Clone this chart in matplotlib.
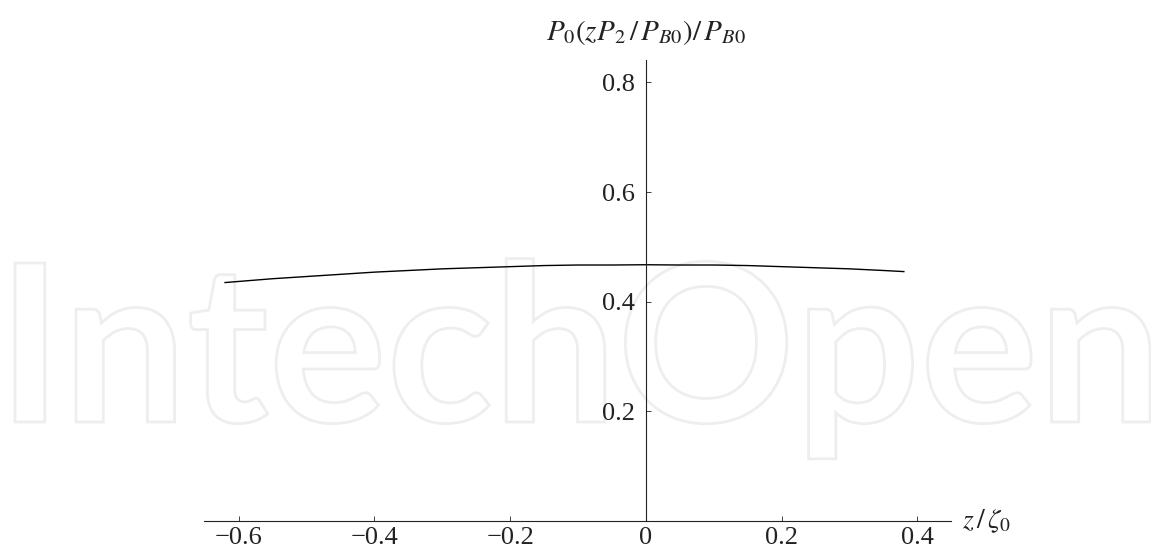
import matplotlib
matplotlib.use("Agg")
import matplotlib.pyplot as plt
from matplotlib.textpath import TextPath
from matplotlib.patches import PathPatch
from matplotlib.font_manager import FontProperties
from matplotlib.transforms import Affine2D

# ─────────────────────────────────────────────
#  DATA
# ─────────────────────────────────────────────
z_over_zeta0 = [-0.62, -0.55, -0.50, -0.45, -0.40, -0.35, -0.30, -0.25, -0.20,
                -0.15, -0.10, -0.05, 0.00, 0.05, 0.10, 0.15, 0.20, 0.25,
                0.30, 0.35, 0.38]
p_ratio = [0.435, 0.442, 0.446, 0.450, 0.454, 0.457, 0.460, 0.462, 0.464,
           0.466, 0.467, 0.467, 0.4675, 0.467, 0.467, 0.466, 0.464, 0.462,
           0.460, 0.457, 0.455]

x_ticks = [-0.6, -0.4, -0.2, 0, 0.2, 0.4]
x_tick_labels = ["\u22120.6", "\u22120.4", "\u22120.2", "0", "0.2", "0.4"]
y_ticks = [0.2, 0.4, 0.6, 0.8]
y_tick_labels = ["0.2", "0.4", "0.6", "0.8"]

W, H = 1151, 554
plt.rcParams["font.family"] = "Liberation Serif"
plt.rcParams["mathtext.fontset"] = "stix"
FS = 19

fig = plt.figure(figsize=(W / 100, H / 100), dpi=100)
fig.patch.set_facecolor("white")

# watermark (outlined text behind the plot)
wm_prop = FontProperties(family="Lato", weight="bold")
tp = TextPath((0, 0), "IntechOpen", size=100, prop=wm_prop)
ext = tp.get_extents()
cap_h = TextPath((0, 0), "I", size=100, prop=wm_prop).get_extents().y1
sx = (1150 - 15) / ext.width
sy = (422 - 263) / cap_h
tr = (Affine2D().scale(sx, sy).translate(15 - ext.x0 * sx, H - 422)
      + Affine2D().scale(1 / W, 1 / H) + fig.transFigure)
fig.add_artist(PathPatch(tp, transform=tr, facecolor="none",
                         edgecolor="#eeeeee", lw=2.0, zorder=-1))

# axes placed so that the data range maps onto the reference pixels
x0_px, x1_px = 204, 950.7
y0_px, y1_px = 521, 60
ax = fig.add_axes([x0_px / W, 1 - y0_px / H, (x1_px - x0_px) / W, (y0_px - y1_px) / H])
ax.patch.set_visible(False)
ax.set_xlim(-0.651, 0.449)
ax.set_ylim(0, 0.841)

ax.plot(z_over_zeta0, p_ratio, color="black", lw=1.0)

for side in ("top", "right"):
    ax.spines[side].set_visible(False)
ax.spines["left"].set_position(("data", 0))
ax.spines["bottom"].set_position(("data", 0))
for side in ("left", "bottom"):
    ax.spines[side].set_linewidth(0.8)
    ax.spines[side].set_color("#222222")

ax.set_xticks(x_ticks)
ax.set_xticklabels(x_tick_labels)
ax.set_yticks(y_ticks)
ax.set_yticklabels(y_tick_labels)
ax.tick_params(axis="x", direction="in", length=3.5, width=0.6, pad=4,
               labelsize=FS, colors="#222222")
ax.tick_params(axis="y", direction="in", length=3.5, width=0.6, pad=8,
               labelsize=FS, colors="#222222")

ax.text(0.465, 0.0, r"$z\,/\,\zeta_0$", fontsize=20, ha="left", va="center",
        color="#222222", clip_on=False)
ax.text(0.0, 0.892, r"$P_0\left(zP_2\,/\,P_{B0}\right)/\,P_{B0}$", fontsize=21,
        ha="center", va="center", color="#222222", clip_on=False)

fig.savefig("out.png", dpi=100)
